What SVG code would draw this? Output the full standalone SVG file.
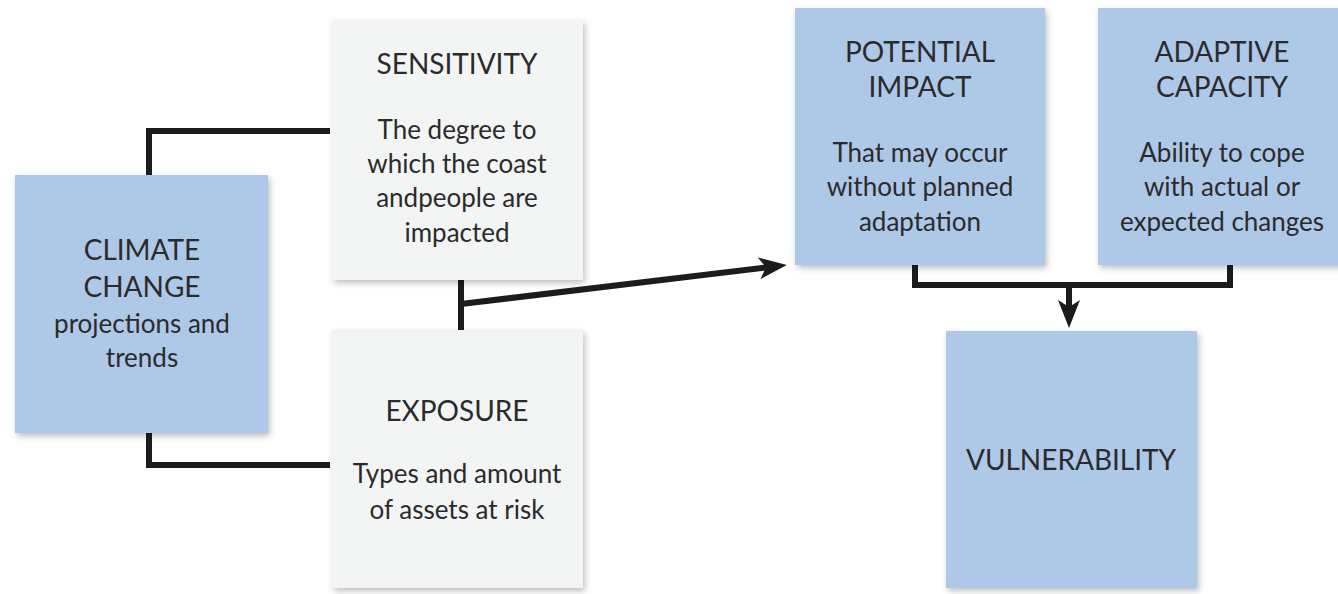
<svg xmlns="http://www.w3.org/2000/svg" width="1338" height="594" viewBox="0 0 1338 594">
<style>
.blue{fill:#aec8e8}
.grey{fill:#f3f5f5}
.t{font-family:"Lato","Open Sans",sans-serif;font-size:26px;fill:#2b2b2b;text-anchor:middle}
.h{font-size:28px}
.ln{stroke:#1c1c1c;stroke-width:6;fill:none}
</style>
<defs>
<filter id="sh" x="-10%" y="-10%" width="125%" height="125%">
<feDropShadow dx="2" dy="3" stdDeviation="3" flood-color="#000" flood-opacity="0.25"/>
</filter>
<marker id="ah" viewBox="0 0 28 22" refX="7" refY="11" markerWidth="28" markerHeight="22" markerUnits="userSpaceOnUse" orient="auto">
<path d="M0,0 L28,11 L0,22 L7,11 Z" fill="#1c1c1c"/>
</marker>
</defs>
<rect width="1338" height="594" fill="#fff"/>
<g id="connectors">
<path class="ln" d="M330,131 H149 V176"/>
<path class="ln" d="M330,465 H149 V432"/>
<path class="ln" d="M461,280 V330"/>
<path class="ln" d="M461,304 L766,267.5" marker-end="url(#ah)"/>
<path class="ln" d="M915,264 V285 H1230 V264"/>
<path class="ln" d="M1069,285 V307" marker-end="url(#ah)"/>
</g>
<g id="climate">
<rect class="blue" x="15" y="175" width="253" height="258" filter="url(#sh)"/>
<text class="t h" x="142" y="260">CLIMATE</text>
<text class="t h" x="142" y="297">CHANGE</text>
<text class="t" x="142" y="333">projections and</text>
<text class="t" x="142" y="367">trends</text>
</g>
<g id="sensitivity">
<rect class="grey" x="332" y="20" width="251" height="260" filter="url(#sh)"/>
<text class="t h" x="457" y="74">SENSITIVITY</text>
<text class="t" x="457" y="139">The degree to</text>
<text class="t" x="457" y="173">which the coast</text>
<text class="t" x="457" y="207">andpeople are</text>
<text class="t" x="457" y="242">impacted</text>
</g>
<g id="exposure">
<rect class="grey" x="332" y="330" width="251" height="258" filter="url(#sh)"/>
<text class="t h" x="457" y="421">EXPOSURE</text>
<text class="t" x="457" y="483">Types and amount</text>
<text class="t" x="457" y="519">of assets at risk</text>
</g>
<g id="potential">
<rect class="blue" x="795" y="8" width="250" height="257" filter="url(#sh)"/>
<text class="t h" x="920" y="62">POTENTIAL</text>
<text class="t h" x="920" y="97">IMPACT</text>
<text class="t" x="920" y="162">That may occur</text>
<text class="t" x="920" y="196">without planned</text>
<text class="t" x="920" y="231">adaptation</text>
</g>
<g id="adaptive">
<rect class="blue" x="1098" y="8" width="250" height="257" filter="url(#sh)"/>
<text class="t h" x="1222" y="62">ADAPTIVE</text>
<text class="t h" x="1222" y="97">CAPACITY</text>
<text class="t" x="1222" y="162">Ability to cope</text>
<text class="t" x="1222" y="196">with actual or</text>
<text class="t" x="1222" y="231">expected changes</text>
</g>
<g id="vulnerability">
<rect class="blue" x="946" y="331" width="251" height="257" filter="url(#sh)"/>
<text class="t h" x="1071" y="470">VULNERABILITY</text>
</g>
</svg>
